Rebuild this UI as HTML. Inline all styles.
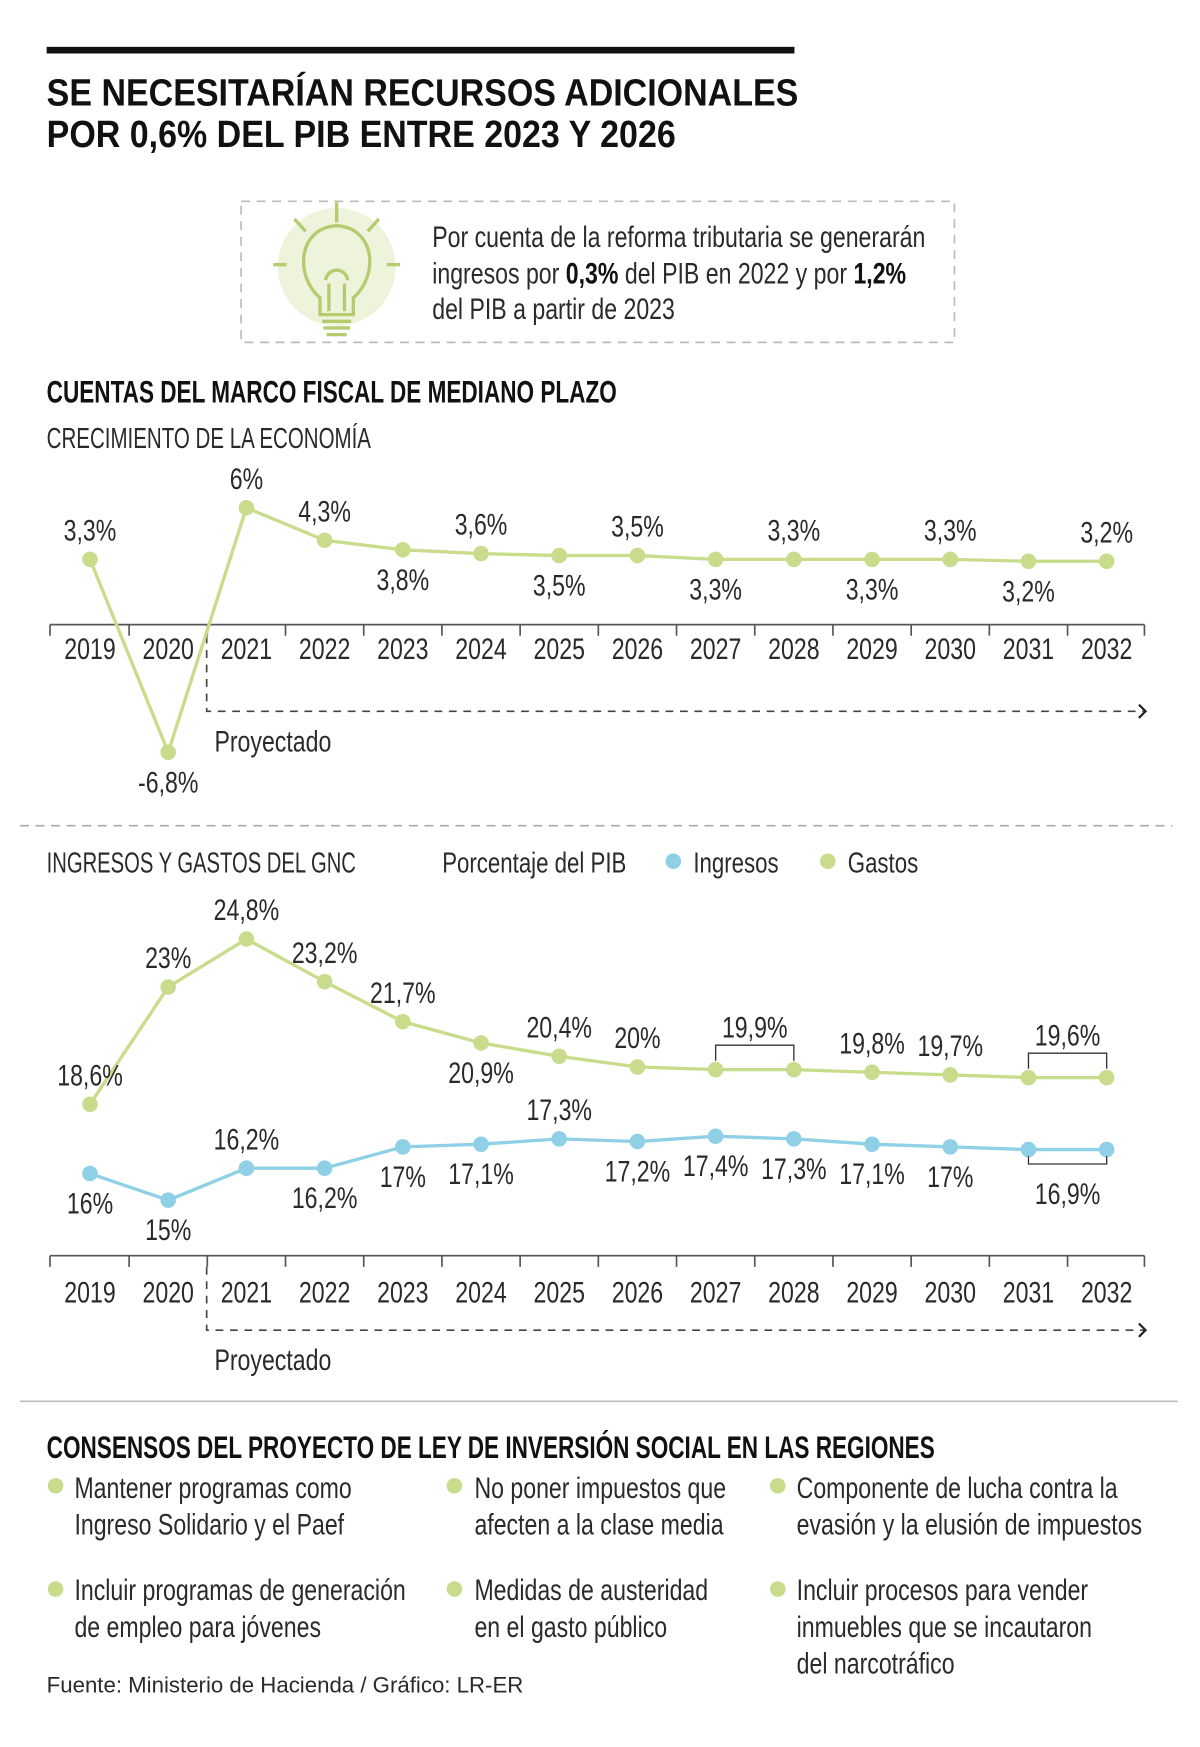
<!DOCTYPE html>
<html><head><meta charset="utf-8">
<style>
html,body{margin:0;padding:0;background:#fff;}
svg{display:block;}
text{font-family:"Liberation Sans Narrow","Liberation Sans",sans-serif;fill:#2a2a2a;}
.b{font-weight:bold;fill:#111;}
</style></head>
<body>
<svg id="page" width="1200" height="1747" viewBox="0 0 1080 1572" xmlns="http://www.w3.org/2000/svg">
<rect x="42" y="42" width="673" height="6" fill="#111"/>
<text x="42" y="95" class="b" font-size="34" data-f="0.9">SE NECESITARÍAN RECURSOS ADICIONALES</text>
<text x="42" y="132" class="b" font-size="34" data-f="0.9">POR 0,6% DEL PIB ENTRE 2023 Y 2026</text>

<g>
<rect x="217" y="181" width="642" height="127" fill="none" stroke="#bbb" stroke-width="1.5" stroke-dasharray="8,6"/>
<g stroke="#b5cc6e" stroke-width="3" fill="none">
<circle cx="303" cy="240" r="53" fill="#eef3dc" stroke="none"/>
<line x1="303" y1="182" x2="303" y2="200"/><line x1="265" y1="197" x2="275" y2="208"/><line x1="341" y1="197" x2="331" y2="208"/>
<line x1="246" y1="238" x2="258" y2="238"/><line x1="348" y1="238" x2="360" y2="238"/>
<path d="M288 283 L288 268 C265 248 268 205 303 203 C338 205 341 248 318 268 L318 283 Z"/>
<path d="M296 280 L296 255 M310 280 L310 255 M293 252 C295 240 311 240 313 252"/>
<line x1="290" y1="289" x2="316" y2="289"/><line x1="291" y1="295" x2="315" y2="295"/><line x1="294" y1="301" x2="312" y2="301"/>
</g>
<text x="389" y="222" font-size="27">Por cuenta de la reforma tributaria se generarán</text>
<text x="389" y="255" font-size="27">ingresos por <tspan class="b">0,3%</tspan> del PIB en 2022 y por <tspan class="b">1,2%</tspan></text>
<text x="389" y="287" font-size="27">del PIB a partir de 2023</text>
</g>

<text x="42" y="362" class="b" font-size="28" data-f="0.725">CUENTAS DEL MARCO FISCAL DE MEDIANO PLAZO</text>
<text x="42" y="403" font-size="26" fill="#333" data-f="0.71">CRECIMIENTO DE LA ECONOMÍA</text>
<g id="c1"></g>

<line x1="18" y1="743" x2="1055" y2="743" stroke="#aaa" stroke-width="1.5" stroke-dasharray="8,6"/>

<text x="42" y="785" font-size="26" fill="#333" data-f="0.7">INGRESOS Y GASTOS DEL GNC</text>
<text x="398" y="785" font-size="26" fill="#333">Porcentaje del PIB</text>
<g><circle cx="606" cy="775" r="7" fill="#8fd0e6"/><text x="624" y="785" font-size="26">Ingresos</text></g>
<g><circle cx="745" cy="775" r="7" fill="#c8dc8c"/><text x="763" y="785" font-size="26">Gastos</text></g>
<g id="c2"></g>

<line x1="18" y1="1261" x2="1060" y2="1261" stroke="#bbb" stroke-width="1.5"/>
<text x="42" y="1312" class="b" font-size="28" data-f="0.725">CONSENSOS DEL PROYECTO DE LEY DE INVERSIÓN SOCIAL EN LAS REGIONES</text>
<g font-size="27">
<circle cx="50" cy="1337" r="7" fill="#c8dc8c"/><text x="67" y="1348">Mantener programas como</text><text x="67" y="1381">Ingreso Solidario y el Paef</text>
<circle cx="409" cy="1337" r="7" fill="#c8dc8c"/><text x="427" y="1348">No poner impuestos que</text><text x="427" y="1381">afecten a la clase media</text>
<circle cx="700" cy="1337" r="7" fill="#c8dc8c"/><text x="717" y="1348">Componente de lucha contra la</text><text x="717" y="1381">evasión y la elusión de impuestos</text>
<circle cx="50" cy="1430" r="7" fill="#c8dc8c"/><text x="67" y="1440">Incluir programas de generación</text><text x="67" y="1473">de empleo para jóvenes</text>
<circle cx="409" cy="1430" r="7" fill="#c8dc8c"/><text x="427" y="1440">Medidas de austeridad</text><text x="427" y="1473">en el gasto público</text>
<circle cx="700" cy="1430" r="7" fill="#c8dc8c"/><text x="717" y="1440">Incluir procesos para vender</text><text x="717" y="1473">inmuebles que se incautaron</text><text x="717" y="1506">del narcotráfico</text>
</g>
<text x="42" y="1523" font-size="20" fill="#444" data-f="1.0" style="font-family:'Liberation Sans',sans-serif">Fuente: Ministerio de Hacienda / Gráfico: LR-ER</text>
</svg>
<script>
const years = ['2019','2020','2021','2022','2023','2024','2025','2026','2027','2028','2029','2030','2031','2032'];
const growth = [3.3,-6.8,6,4.3,3.8,3.6,3.5,3.5,3.3,3.3,3.3,3.3,3.2,3.2];
const growthLabels = ['3,3%','-6,8%','6%','4,3%','3,8%','3,6%','3,5%','3,5%','3,3%','3,3%','3,3%','3,3%','3,2%','3,2%'];
const growthSide = ['a','b','a','a','b','a','b','a','b','a','b','a','b','a'];
const gastos = [18.6,23,24.8,23.2,21.7,20.9,20.4,20,19.9,19.9,19.8,19.7,19.6,19.6];
const gastosLabels = ['18,6%','23%','24,8%','23,2%','21,7%','20,9%','20,4%','20%','19,9%','','19,8%','19,7%','19,6%',''];
const gastosSide = ['a','a','a','a','a','b','a','a','br','','a','a','br',''];
const ingresos = [16,15,16.2,16.2,17,17.1,17.3,17.2,17.4,17.3,17.1,17,16.9,16.9];
const ingresosLabels = ['16%','15%','16,2%','16,2%','17%','17,1%','17,3%','17,2%','17,4%','17,3%','17,1%','17%','16,9%',''];
const ingresosSide = ['b','b','a','b','b','b','a','b','b','b','b','b','bb',''];

const NS='http://www.w3.org/2000/svg';
function el(parent,tag,attrs){const e=document.createElementNS(NS,tag);for(const k in attrs)e.setAttribute(k,attrs[k]);parent.appendChild(e);return e;}
const xOf = i => 81 + i*(996-81)/(years.length-1);
const y1 = v => 560 - v*17.19;
const y2 = v => 845 + (24.8 - v)*23.98;
const GREEN='#c8dc8c', BLUE='#8fd0e6';

function axis(g, ay, ly, py){
  const ax=el(g,'line',{x1:45,y1:ay,x2:1030,y2:ay,stroke:'#555','stroke-width':1.5});
  
  
  for(let i=0;i<=years.length;i++){
    const tx = i===0?45:(i===years.length?1030:(xOf(i-1)+xOf(i))/2);
    const t=el(g,'line',{x1:tx,y1:ay,x2:tx,y2:ay+10,stroke:'#555','stroke-width':1.5});
    
    
  }
  years.forEach((y,i)=>{
    const t=el(g,'text',{x:xOf(i),y:ly,'text-anchor':'middle','font-size':27});
    t.textContent=y;
    
    
  });
  const p=el(g,'path',{d:`M186 ${ay+10} L186 ${py} L1030 ${py}`,fill:'none',stroke:'#444','stroke-width':1.5,'stroke-dasharray':'7,6'});
  
  
  const c=el(g,'path',{d:`M1025 ${py-6} L1031 ${py} L1025 ${py+6}`,fill:'none',stroke:'#222','stroke-width':2});
  
  
  const pt=el(g,'text',{x:193,y:py+36,'font-size':27});
  pt.textContent='Proyectado';
  
  
}

function series(g, vals, yf, color, name){
  const pts=vals.map((v,i)=>xOf(i)+','+yf(v)).join(' ');
  const l=el(g,'polyline',{points:pts,fill:'none',stroke:color,'stroke-width':3});
  
  
  vals.forEach((v,i)=>{
    const c=el(g,'circle',{cx:xOf(i),cy:yf(v),r:7,fill:color});
    
    
  });
}

function labels(g, vals, labs, sides, yf, name){
  vals.forEach((v,i)=>{
    if(!labs[i]) return;
    const s=sides[i]; let x=xOf(i), y=yf(v);
    if(s==='a') y-=17; else if(s==='b') y+=36;
    else if(s==='br'){
      x=(xOf(i)+xOf(i+1))/2; const top=yf(v)-22;
      const br=el(g,'path',{d:`M${xOf(i)} ${yf(v)-8} L${xOf(i)} ${top} L${xOf(i+1)} ${top} L${xOf(i+1)} ${yf(v)-8}`,fill:'none',stroke:'#333','stroke-width':1.2});
      
      
      y=top-7;
    } else if(s==='bb'){
      x=(xOf(i)+xOf(i+1))/2; const bot=yf(v)+13;
      const br=el(g,'path',{d:`M${xOf(i)} ${yf(v)+6} L${xOf(i)} ${bot} L${xOf(i+1)} ${bot} L${xOf(i+1)} ${yf(v)+6}`,fill:'none',stroke:'#333','stroke-width':1.2});
      
      
      y=bot+36;
    }
    const t=el(g,'text',{x:x,y:y,'text-anchor':'middle','font-size':27});
    t.textContent=labs[i];
    
    
  });
}

const c1=document.getElementById('c1');
axis(c1,562,593,640);
series(c1,growth,y1,GREEN,'growth');
labels(c1,growth,growthLabels,growthSide,y1,'growth');

const c2=document.getElementById('c2');
axis(c2,1130,1172,1197);
series(c2,gastos,y2,GREEN,'gastos');
series(c2,ingresos,y2,BLUE,'ingresos');
labels(c2,gastos,gastosLabels,gastosSide,y2,'gastos');
labels(c2,ingresos,ingresosLabels,ingresosSide,y2,'ingresos');

// condense text to mimic narrow typeface
document.querySelectorAll('#page text').forEach(t=>{
  const f=parseFloat(t.getAttribute('data-f')||'0.77');
  const w=t.getComputedTextLength();
  if(w>0){t.setAttribute('textLength',(w*f).toFixed(1));t.setAttribute('lengthAdjust','spacingAndGlyphs');}
});
</script>
</body></html>
